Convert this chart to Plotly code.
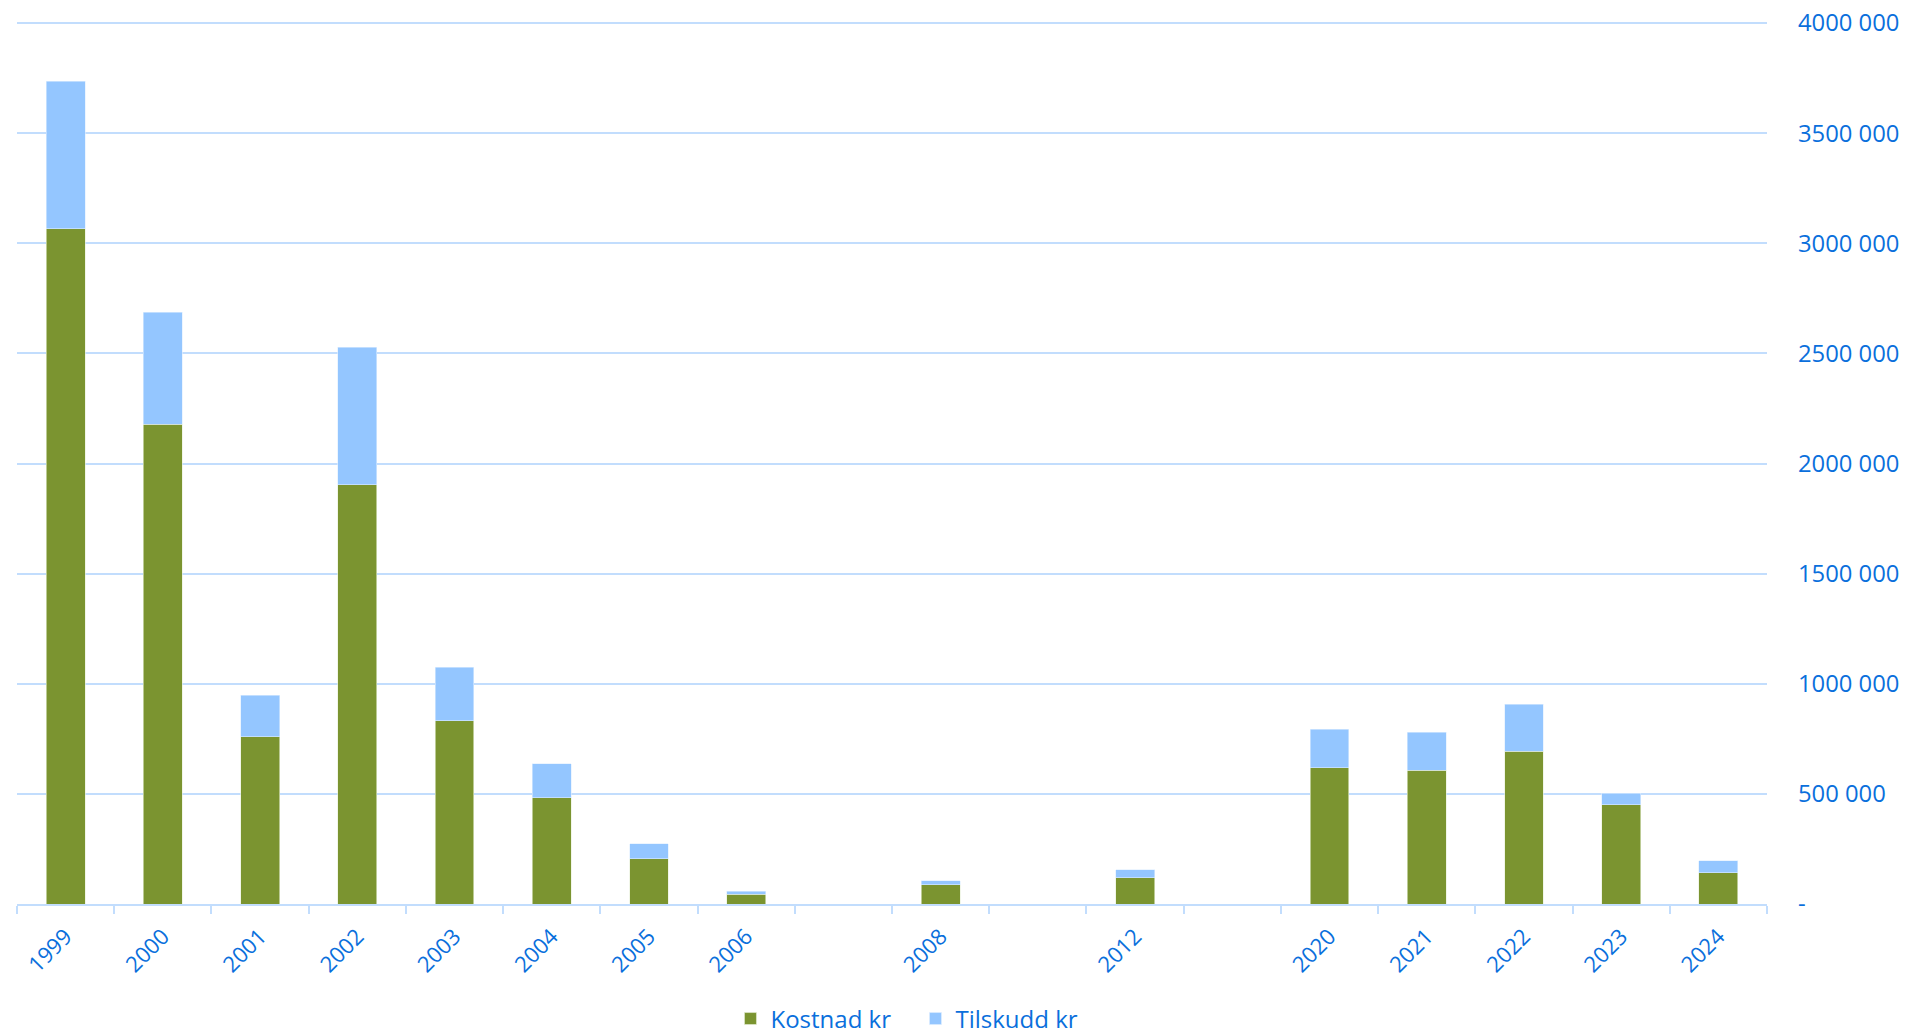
import plotly.graph_objects as go

categories = ["1999", "2000", "2001", "2002", "2003", "2004", "2005", "2006", " ",
              "2008", "  ", "2012", "   ", "2020", "2021", "2022", "2023", "2024"]
kostnad = [3067000, 2178000, 759000, 1903000, 832000, 483000, 206000, 44000, None,
           88000, None, 119000, None, 619000, 607000, 694000, 451000, 143000]
tilskudd = [670000, 510000, 188000, 626000, 242000, 153000, 67000, 14000, None,
            17000, None, 37000, None, 175000, 174000, 212000, 53000, 53000]
y_tickvals = [0, 500000, 1000000, 1500000, 2000000, 2500000, 3000000, 3500000, 4000000]
y_ticktext = ["-", "500 000", "1000 000", "1500 000", "2000 000", "2500 000",
              "3000 000", "3500 000", "4000 000"]

TEXT = "#0a6fdc"
GRID = "#c2ddfd"
FONT = "Open Sans"

fig = go.Figure()
fig.add_trace(go.Bar(x=categories, y=kostnad, name="Kostnad kr",
                     marker=dict(color="#7b9430", line=dict(color="#e8f0d8", width=0.6))))
fig.add_trace(go.Bar(x=categories, y=tilskudd, name="Tilskudd kr",
                     marker=dict(color="#94c6ff", line=dict(color="#e0eeff", width=0.6))))

fig.update_layout(
    template="none",
    width=1916, height=1035,
    barmode="stack", bargap=0.6,
    plot_bgcolor="white", paper_bgcolor="white",
    margin=dict(l=17, r=149, t=22, b=131, autoexpand=False),
    font=dict(family=FONT, size=22, color=TEXT),
    showlegend=True,
    legend=dict(orientation="h", x=0.4077, xanchor="left", xref="paper",
                y=0.0155, yanchor="middle", yref="container",
                font=dict(size=24, color=TEXT), traceorder="normal",
                itemwidth=30, entrywidth=140, entrywidthmode="pixels",
                bgcolor="rgba(0,0,0,0)"),
    xaxis=dict(type="category", categoryorder="array", categoryarray=categories,
               tickangle=-45, tickson="boundaries", ticks="outside", ticklen=8,
               tickcolor=GRID, tickwidth=1.5, showline=True, linecolor=GRID, linewidth=2,
               showgrid=False, automargin=False, ticklabelstandoff=9,
               tickfont=dict(size=22, color=TEXT)),
    yaxis=dict(side="right", range=[0, 4005000], tickvals=y_tickvals, ticktext=y_ticktext,
               showgrid=True, gridcolor=GRID, gridwidth=1.5, zeroline=False,
               ticks="", ticklabelstandoff=30, automargin=False,
               ticklabeloverflow="allow",
               tickfont=dict(size=23.8, color=TEXT)),
)

fig.write_html("out.html",
               config={"displayModeBar": False},
               post_script="document.body.style.margin='0';document.body.style.overflow='hidden';")
